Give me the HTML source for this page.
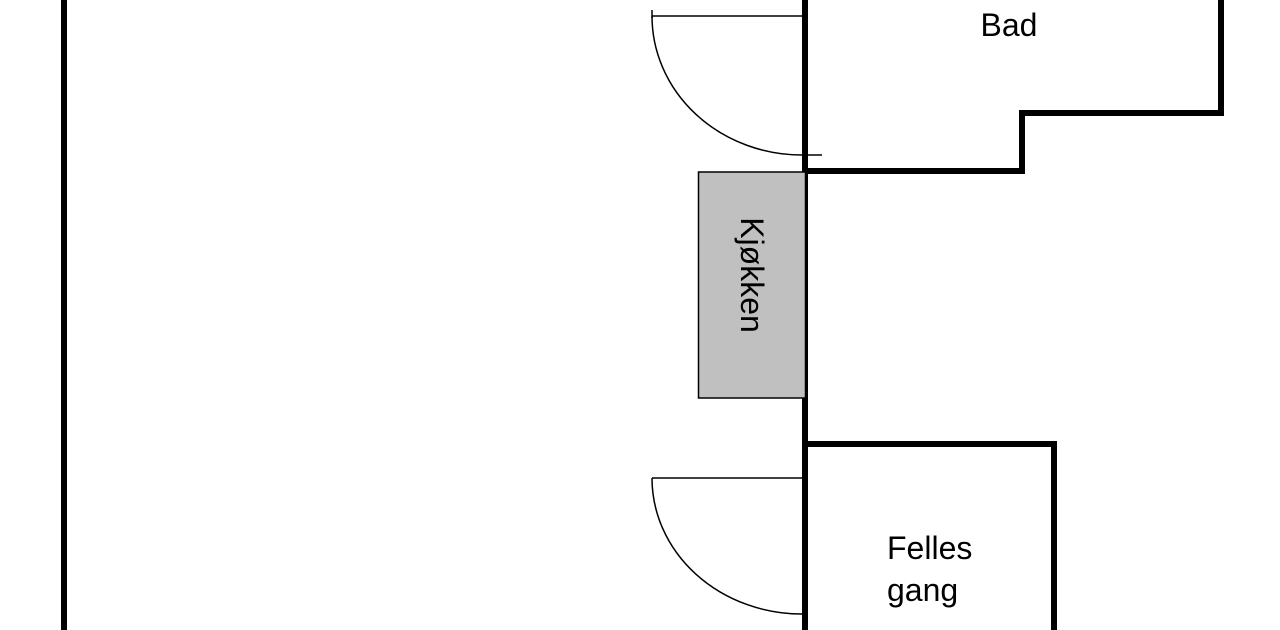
<!DOCTYPE html>
<html><head><style>body{margin:0;background:#fff}svg{display:block}</style></head><body>
<svg width="1280" height="630" xmlns="http://www.w3.org/2000/svg">
<g fill="#000">
<rect x="61" y="0" width="6" height="630"/>
<rect x="802" y="0" width="6" height="630"/>
<rect x="1218" y="0" width="6" height="116"/>
<rect x="1019" y="110" width="205" height="6"/>
<rect x="1019" y="110" width="6" height="64"/>
<rect x="805" y="168" width="220" height="6"/>
<rect x="805" y="441" width="252" height="6"/>
<rect x="1051" y="441" width="6" height="189"/>
</g>
<g fill="none" stroke="#000" stroke-width="1.5">
<line x1="652" y1="16" x2="802" y2="16"/>
<line x1="652" y1="10" x2="652" y2="18"/>
<path d="M652 16 A150 139 0 0 0 802 155"/>
<line x1="802" y1="155" x2="822" y2="155"/>
<line x1="652" y1="478" x2="802" y2="478"/>
<path d="M652 478 A150 136 0 0 0 802 614"/>
</g>
<rect x="698.5" y="172" width="107" height="226" fill="#c0c0c0" stroke="#000" stroke-width="1.5"/>
<g font-family="Liberation Sans, sans-serif" fill="#000">
<text x="1009" y="36" text-anchor="middle" font-size="32">Bad</text>
<text x="887" y="559" font-size="32">Felles</text>
<text x="887" y="601" font-size="32">gang</text>
<text transform="translate(741,275) rotate(90)" text-anchor="middle" font-size="32">Kjøkken</text>
</g>
</svg>
</body></html>
